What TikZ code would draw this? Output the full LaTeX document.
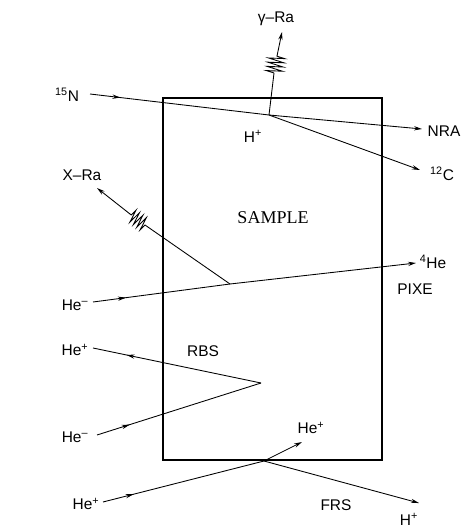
\documentclass[tikz,border=0pt]{standalone}
\usepackage{fontspec}
\setmainfont{Liberation Sans}
\newfontfamily\samplefont{Liberation Serif}
\usetikzlibrary{arrows.meta, decorations.pathmorphing, decorations.markings}

\begin{document}
\begin{tikzpicture}[
    x=0.75pt, y=-0.75pt,
    label/.style={inner sep=0pt, font=\fontsize{11.6}{13}\selectfont},
    sample/.style={draw, line width=1pt},
    beam/.style={line width=0.65pt},
    arrow/.style={beam, -{Stealth[length=6pt, width=3.2pt]}},
    midtip/.style={beam, postaction={decorate, decoration={markings,
        mark=at position #1 with {\arrow{Stealth[length=6pt, width=3.2pt]}}}}},
    wiggle/.style={beam, decorate, decoration={zigzag, segment length=3.2pt, amplitude=#1}}
]
\useasboundingbox (0,0) rectangle (462,527);

% sample block
\coordinate (tl) at (163,98);
\coordinate (br) at (382,460);
\draw[sample] (tl) rectangle (br);
\node[font=\fontsize{13.5}{15}\samplefont] (sample) at (273,218) {SAMPLE};

% NRA
\coordinate (nIn) at (90,94);
\coordinate (nHit) at (269,115);
\coordinate (nraEnd) at (422,129);
\coordinate (cEnd) at (420,170);
\coordinate (gamA) at (274,73);
\coordinate (gamB) at (277,56);
\coordinate (gamEnd) at (282,32);
\draw[midtip=0.17] (nIn) -- (nHit);
\draw[arrow] (nHit) -- (nraEnd);
\draw[arrow] (nHit) -- (cEnd);
\draw[beam] (nHit) -- (gamA);
\draw[wiggle=6pt] (gamA) -- (gamB);
\draw[arrow] (gamB) -- (gamEnd);

% PIXE
\coordinate (xIn) at (93,302);
\coordinate (xHit) at (230,284);
\coordinate (heEnd) at (416,263);
\coordinate (xA) at (145,225);
\coordinate (xB) at (130,214);
\coordinate (xEnd) at (97,188);
\draw[midtip=0.24] (xIn) -- (xHit);
\draw[arrow] (xHit) -- (heEnd);
\draw[beam] (xHit) -- (xA);
\draw[wiggle=5pt] (xA) -- (xB);
\draw[arrow] (xB) -- (xEnd);

% RBS
\coordinate (rTip) at (261,383);
\coordinate (rIn) at (97,435);
\coordinate (rOut) at (93,348);
\draw[midtip=0.2] (rIn) -- (rTip);
\draw[midtip=0.8] (rTip) -- (rOut);

% FRS
\coordinate (fIn) at (103,502);
\coordinate (fHit) at (264,461);
\coordinate (fOut) at (302,442);
\coordinate (hEnd) at (419,503);
\draw[midtip=0.19] (fIn) -- (fHit);
\draw[arrow] (fHit) -- (fOut);
\draw[arrow] (fHit) -- (hEnd);

\node[label] (gammaRa) at (276,19) {γ–Ra};
\node[label] (nIon) at (67,95) {\textsuperscript{15}N};
\node[label] (hIon) at (253,136) {H\textsuperscript{+}};
\node[label] (nra) at (444,131) {NRA};
\node[label] (cIon) at (442,174) {\textsuperscript{12}C};
\node[label] (xRa) at (82,175) {X–Ra};
\node[label] (heFour) at (433,262) {\textsuperscript{4}He};
\node[label] (pixe) at (415,289) {PIXE};
\node[label] (heA) at (75,305) {He\textsuperscript{–}};
\node[label] (heB) at (75,350) {He\textsuperscript{+}};
\node[label] (rbs) at (203,351) {RBS};
\node[label] (heC) at (75,437) {He\textsuperscript{–}};
\node[label] (heD) at (311,428) {He\textsuperscript{+}};
\node[label] (heE) at (86,504) {He\textsuperscript{+}};
\node[label] (frs) at (336,505) {FRS};
\node[label] (hOut) at (409,519) {H\textsuperscript{+}};

\end{tikzpicture}
\end{document}
